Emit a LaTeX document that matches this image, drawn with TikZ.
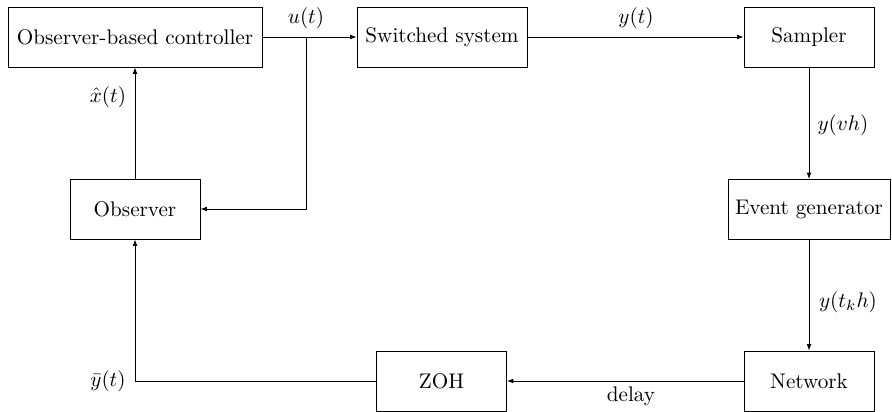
\documentclass[tikz,border=0pt]{standalone}
\usetikzlibrary{arrows.meta}
\begin{document}
\begin{tikzpicture}[x=0.4725pt,y=-0.4725pt,
  blk/.style={draw,line width=0.4pt,minimum height=60*0.4725pt,inner sep=0pt,font=\normalsize},
  conn/.style={line width=0.4pt,-{Latex[length=3pt,width=2.2pt]}},
  lbl/.style={inner sep=0pt}]
\useasboundingbox (0,0) rectangle (892,412);
\node[blk,minimum width=254*0.4725pt] (ctrl) at (135,37) {Observer-based controller};
\node[blk,minimum width=170*0.4725pt] (sys) at (442,37) {Switched system};
\node[blk,minimum width=130*0.4725pt] (samp) at (809,37) {Sampler};
\node[blk,minimum width=162*0.4725pt] (event) at (809,209.5) {Event generator};
\node[blk,minimum width=130*0.4725pt] (net) at (809,381) {Network};
\node[blk,minimum width=130*0.4725pt] (zoh) at (441.5,381) {ZOH};
\node[blk,minimum width=130*0.4725pt] (obs) at (135,209) {Observer};
\coordinate (br) at (306,37);
\draw[conn] (ctrl.east) -- (sys.west);
\draw[conn] (br) |- (obs.east);
\draw[conn] (obs.north) -- (ctrl.south);
\draw[conn] (sys.east) -- (samp.west);
\draw[conn] (samp.south) -- (event.north);
\draw[conn] (event.south) -- (net.north);
\draw[conn] (net.west) -- (zoh.east);
\draw[conn] (zoh.west) -| (obs.south);
\node[lbl] (lu) at (306,18) {$u(t)$};
\node[lbl] (lx) at (108,97) {$\hat{x}(t)$};
\node[lbl] (ly) at (636,18) {$y(t)$};
\node[lbl] (lvh) at (843,125) {$y(vh)$};
\node[lbl] (ltk) at (848,302) {$y(t_kh)$};
\node[lbl] (ld) at (631,396) {delay};
\node[lbl] (lyb) at (108,381) {$\bar{y}(t)$};
\end{tikzpicture}
\end{document}
